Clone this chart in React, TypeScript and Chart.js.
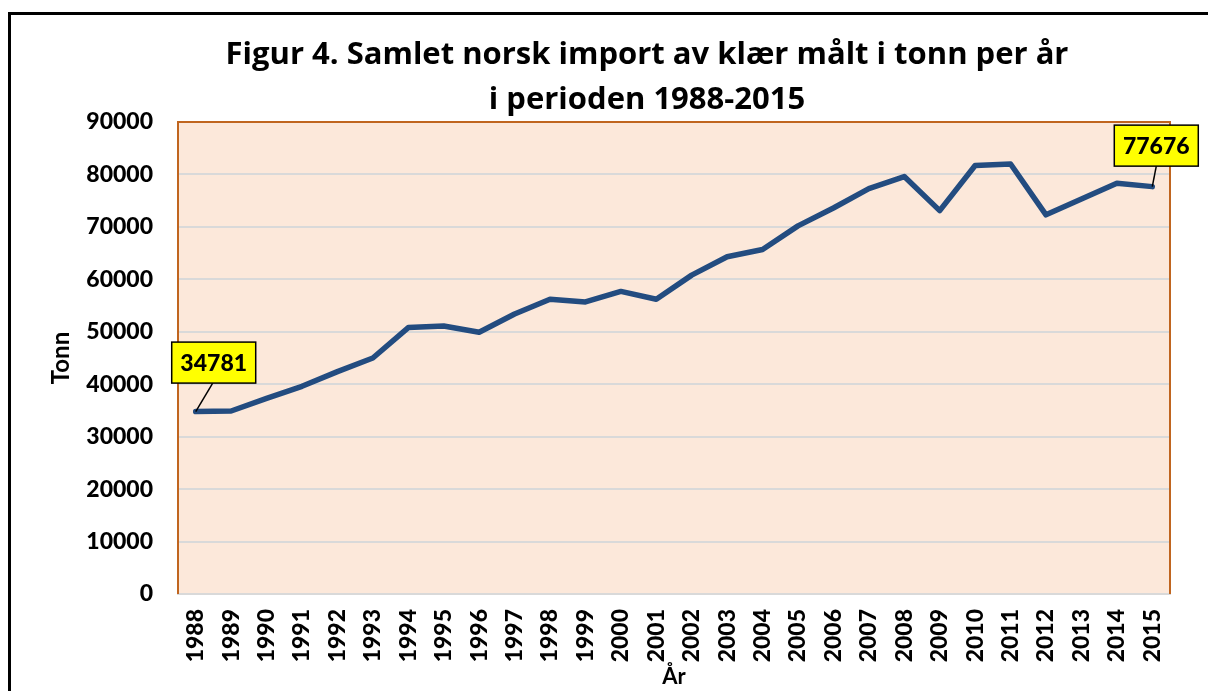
import { useEffect, useRef } from "react";
import { Chart, registerables } from "chart.js";

Chart.register(...registerables);

const years = [
  "1988", "1989", "1990", "1991", "1992", "1993", "1994", "1995", "1996", "1997",
  "1998", "1999", "2000", "2001", "2002", "2003", "2004", "2005", "2006", "2007",
  "2008", "2009", "2010", "2011", "2012", "2013", "2014", "2015",
];

const importTonn = [
  34781, 34900, 37300, 39600, 42400, 45000, 50800, 51100, 49900, 53400,
  56200, 55700, 57700, 56200, 60800, 64300, 65700, 70200, 73600, 77300,
  79600, 73100, 81700, 82000, 72300, 75300, 78300, 77676,
];

const yMin = 0;
const yMax = 90000;
const yStep = 10000;

const titleLines = [
  "Figur 4. Samlet norsk import av klær målt i tonn per år",
  "i perioden 1988-2015",
];
const yAxisTitle = "Tonn";
const xAxisTitle = "År";

// indices of points that carry a data label (first and last)
const labelledPoints = [0, importTonn.length - 1];

const FONT = "Lato, 'Open Sans', sans-serif";
const TITLE_FONT = "'Open Sans', Lato, sans-serif";

const decorPlugin = {
  id: "decor",
  beforeDraw(chart: any) {
    const { ctx, chartArea: a } = chart;
    ctx.save();
    ctx.fillStyle = "#ffffff";
    ctx.fillRect(0, 0, chart.width, chart.height);
    // outer frame
    ctx.fillStyle = "#000000";
    ctx.fillRect(8, 12, 3, chart.height);
    ctx.fillRect(8, 12, chart.width, 3);
    // plot area background
    ctx.fillStyle = "#FCE8DA";
    ctx.fillRect(a.left, a.top, a.right - a.left, a.bottom - a.top);
    // title
    ctx.fillStyle = "#000000";
    ctx.font = `bold 31px ${TITLE_FONT}`;
    ctx.textAlign = "center";
    ctx.textBaseline = "alphabetic";
    ctx.fillText(titleLines[0], 647, 64);
    ctx.fillText(titleLines[1], 647, 109);
    ctx.restore();
  },
  beforeDatasetsDraw(chart: any) {
    const { ctx, chartArea: a } = chart;
    ctx.save();
    ctx.strokeStyle = "#C0651F";
    ctx.lineWidth = 2;
    ctx.beginPath();
    ctx.moveTo(a.left, a.bottom);
    ctx.lineTo(a.left, a.top);
    ctx.lineTo(a.right, a.top);
    ctx.lineTo(a.right, a.bottom);
    ctx.stroke();
    ctx.restore();
  },
  afterDatasetsDraw(chart: any) {
    const { ctx } = chart;
    const meta = chart.getDatasetMeta(0);
    const offsets: Record<number, [number, number, number]> = {
      0: [18, -49, 17],
      [importTonn.length - 1]: [4, -41, 4],
    };
    ctx.save();
    labelledPoints.forEach((i) => {
      const pt = meta.data[i];
      const [dx, dy, lx] = offsets[i];
      const w = 84;
      const h = 41;
      const cx = pt.x + dx;
      const cy = pt.y + dy;
      // leader line
      ctx.strokeStyle = "#000000";
      ctx.lineWidth = 1.5;
      ctx.beginPath();
      ctx.moveTo(pt.x, pt.y);
      ctx.lineTo(pt.x + lx, cy + h / 2);
      ctx.stroke();
      // box
      ctx.fillStyle = "#FFFF00";
      ctx.fillRect(cx - w / 2, cy - h / 2, w, h);
      ctx.lineWidth = 1.5;
      ctx.strokeRect(cx - w / 2, cy - h / 2, w, h);
      ctx.fillStyle = "#000000";
      ctx.font = `900 23px ${FONT}`;
      ctx.textAlign = "center";
      ctx.textBaseline = "middle";
      ctx.fillText(String(importTonn[i]), cx, cy + 1);
    });
    ctx.restore();
  },
};

export default function App() {
  const ref = useRef<HTMLCanvasElement | null>(null);

  useEffect(() => {
    document.body.style.margin = "0";
    const canvas = ref.current;
    if (!canvas) return;
    const chart = new Chart(canvas, {
      type: "line",
      data: {
        labels: years,
        datasets: [
          {
            label: "Import (tonn)",
            data: importTonn,
            borderColor: "#234C80",
            borderWidth: 5.5,
            pointRadius: 0,
            pointHoverRadius: 0,
            tension: 0,
            borderJoinStyle: "round",
            borderCapStyle: "round",
            fill: false,
          },
        ],
      },
      options: {
        animation: false,
        responsive: false,
        devicePixelRatio: 1,
        layout: { padding: { top: 122, right: 38, left: 0, bottom: 0 } },
        plugins: {
          legend: { display: false },
          title: { display: false },
          tooltip: { enabled: false },
        },
        scales: {
          x: {
            type: "category",
            offset: true,
            grid: { display: false, drawTicks: false },
            border: { display: true, color: "#D9D9D9", width: 2 },
            ticks: {
              autoSkip: false,
              minRotation: 90,
              maxRotation: 90,
              padding: 15,
              color: "#000000",
              font: { family: FONT, size: 23, weight: "900" },
            },
            title: {
              display: true,
              text: xAxisTitle,
              color: "#000000",
              font: { family: FONT, size: 22, weight: "bold" },
              padding: { top: 0, bottom: 1 },
            },
            afterFit(scale: any) {
              scale.height = 97;
            },
          },
          y: {
            min: yMin,
            max: yMax,
            grid: { color: "#D9D9D9", lineWidth: 2, drawTicks: false },
            border: { display: false },
            ticks: {
              stepSize: yStep,
              padding: 25,
              color: "#000000",
              font: { family: FONT, size: 23, weight: "900" },
              callback: (v: any) => String(v),
            },
            title: {
              display: true,
              text: yAxisTitle,
              color: "#000000",
              font: { family: FONT, size: 24, weight: "bold" },
              padding: { top: 47, bottom: 0 },
            },
            afterFit(scale: any) {
              scale.width = 178;
            },
          },
        },
      },
      plugins: [decorPlugin],
    });
    return () => chart.destroy();
  }, []);

  return (
    <div style={{ width: 1208, height: 691 }}>
      <canvas ref={ref} width={1208} height={691} style={{ display: "block" }} />
    </div>
  );
}
